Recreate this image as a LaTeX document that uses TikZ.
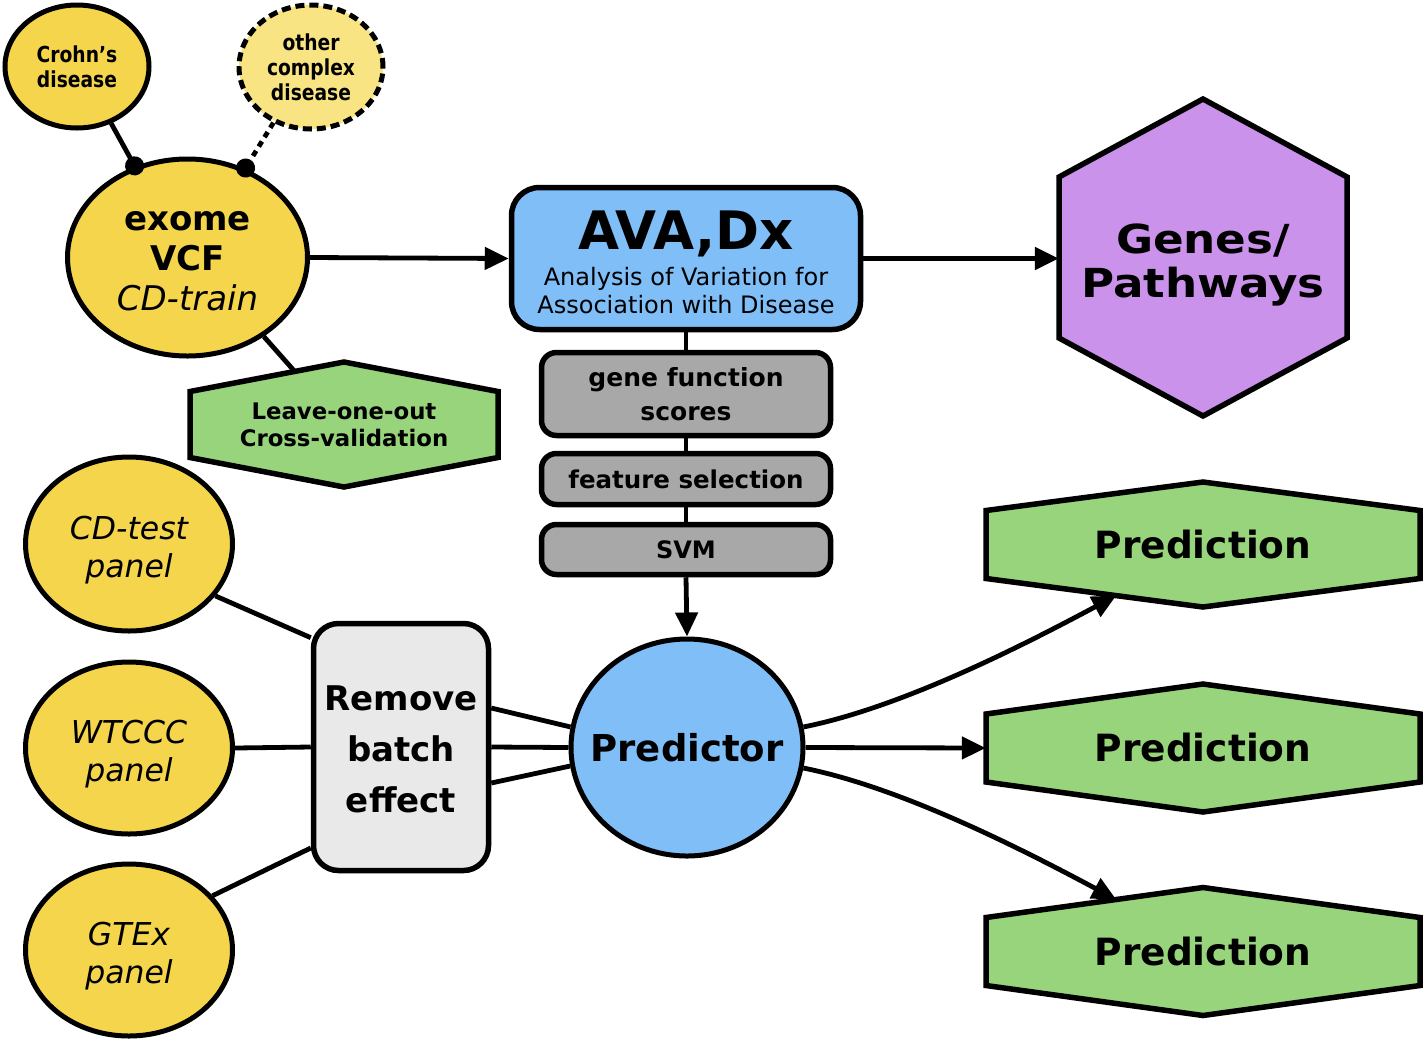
\documentclass[tikz,border=0pt]{standalone}
\usepackage{fontspec}
\setmainfont{DejaVu Sans}
\newfontfamily\narrowfont{DejaVu Sans}[FakeStretch=0.85]
\newfontfamily\widefont{DejaVu Sans}[FakeStretch=1.13]
\usetikzlibrary{arrows.meta,shapes.geometric,calc}

\definecolor{cyell}{HTML}{F5D54B}
\definecolor{clyell}{HTML}{F8E482}
\definecolor{cgreen}{HTML}{98D47C}
\definecolor{cblue}{HTML}{80BEF8}
\definecolor{cpurple}{HTML}{CA92EA}
\definecolor{cgray}{HTML}{A8A8A8}
\definecolor{clgray}{HTML}{E9E9E9}

\newcommand\fs[2]{\fontsize{#1}{#2}\selectfont}
% name, cx, cy, half width, half side height, half vertex height, style
\newcommand\hexpath[7]{%
  \path[#7] ({#2-#4},{#3-#5}) coordinate (#1-nw) -- (#2,{#3-#6}) coordinate (#1-n)
    -- ({#2+#4},{#3-#5}) coordinate (#1-ne) -- ({#2+#4},{#3+#5}) coordinate (#1-se)
    -- (#2,{#3+#6}) coordinate (#1-s) -- ({#2-#4},{#3+#5}) coordinate (#1-sw) -- cycle;}

\tikzset{
  ell/.style={ellipse, draw, line width=5pt, fill=cyell, inner sep=-20pt, align=center},
  rbox/.style={rectangle, rounded corners=15pt, draw, line width=5.5pt, fill=cgray, inner sep=0pt, align=center},
  hexa/.style={draw, line width=5.5pt, line join=miter},
  txt/.style={inner sep=0pt, align=center},
  conn/.style={line width=4.8pt},
  arr/.style={conn, -{Triangle[length=24pt,width=22pt]}},
  dotend/.style={conn, -{Circle[length=19pt]}, shorten >=-9pt},
}

\begin{document}
\begin{tikzpicture}[x=1pt,y=-1pt]
\useasboundingbox (0,0) rectangle (1423,1042);

% hexagons
\hexpath{g}{1203}{257.5}{144}{80.5}{158.5}{hexa, fill=cpurple}
\hexpath{loo}{344}{424.5}{154}{33}{62.5}{hexa, fill=cgreen}
\hexpath{p1}{1203}{544.5}{217}{34}{62.5}{hexa, fill=cgreen}
\hexpath{p2}{1203}{748}{217}{34}{64}{hexa, fill=cgreen}
\hexpath{p3}{1203}{951.5}{217}{34}{64}{hexa, fill=cgreen}

% ellipses
\node[ell, minimum width=144, minimum height=123, font=\narrowfont\fs{22}{25}\bfseries] (crohn) at (77,66.5) {Crohn’s\\disease};
\node[ell, fill=clyell, dash pattern=on 9pt off 5pt, minimum width=144, minimum height=124, font=\narrowfont\fs{22}{25}\bfseries] (other) at (311,67) {other\\complex\\disease};
\node[ell, minimum width=240, minimum height=197, font=\fs{34}{40}] (exome) at (187.5,257.5) {\rule{0pt}{27pt}{\bfseries exome}\\{\bfseries VCF}\\{\itshape CD-train}};
\node[ell, minimum width=207, minimum height=174, font=\fs{31.5}{38}\itshape] (cdtest) at (129,544) {\rule{0pt}{35pt}CD-test\\panel};
\node[ell, minimum width=207, minimum height=172, font=\fs{31.5}{38}\itshape] (wtccc) at (129,748) {\rule{0pt}{35pt}WTCCC\\panel};
\node[ell, minimum width=207, minimum height=172, font=\fs{31.5}{38}\itshape] (gtex) at (129,950) {\rule{0pt}{35pt}GTEx\\panel};
\node[ell, fill=cblue, minimum width=232, minimum height=217, font=\fs{37}{40}\bfseries] (pred) at (687,747.5) {Predictor};

% boxes
\node[rbox, fill=cblue, rounded corners=28pt, minimum width=349, minimum height=142, font=\fs{24}{28}] (ava) at (686,258.5)
  {\rule{0pt}{46pt}{\fs{53}{56}\bfseries AVA,Dx}\\[8pt]Analysis of Variation for\\Association with Disease};
\node[rbox, minimum width=289, minimum height=83, font=\fs{25}{34}\bfseries] (gfs) at (686,394) {gene function\\scores};
\node[rbox, minimum width=289, minimum height=51, font=\fs{24.5}{28}\bfseries] (fsel) at (686,479) {feature selection};
\node[rbox, minimum width=289, minimum height=50, font=\fs{24}{28}\bfseries] (svm) at (686,549.5) {SVM};
\node[rbox, fill=clgray, rounded corners=25pt, minimum width=175, minimum height=247, font=\fs{34}{51}\bfseries] (remove) at (401,747) {\rule{0pt}{30pt}Remove\\batch\\effect};

% hexagon texts
\node[txt, minimum width=288, font=\widefont\fs{40}{44}\bfseries] (genes) at (1203,257.5) {\rule{0pt}{44pt}Genes/\\Pathways};
\node[txt, font=\fs{22.8}{27}\bfseries] (looT) at (344,424.5) {Leave-one-out\\Cross-validation};
\node[txt, minimum width=434, font=\fs{37.5}{40}\bfseries] (pr1) at (1203,544.5) {Prediction};
\node[txt, minimum width=434, font=\fs{37.5}{40}\bfseries] (pr2) at (1203,748) {Prediction};
\node[txt, minimum width=434, font=\fs{37.5}{40}\bfseries] (pr3) at (1203,951.5) {Prediction};

% connectors
\draw[dotend] (crohn.-59) -- (exome.120);
\draw[dotend, dash pattern=on 6pt off 5pt] (other.-124) -- (exome.57);
\draw[conn] (exome.-46) -- ($(loo-nw)!0.68!(loo-n)$);
\draw[arr] (exome.east) -- (ava.west);
\draw[arr] (ava.east) -- (ava.east -| genes.west);
\draw[conn] (ava.south) -- (gfs.north);
\draw[conn] (gfs.south) -- (fsel.north);
\draw[conn] (fsel.south) -- (svm.north);
\draw[arr] (svm.south) -- (pred.north);

\draw[conn] (cdtest.-31) -- ($(remove.north west)!0.067!(remove.south west)$);
\draw[conn] (wtccc.east) -- (remove.west);
\draw[conn] (gtex.33) -- ($(remove.north west)!0.9!(remove.south west)$);

\draw[conn] ($(remove.east)+(0,-39)$) -- (pred.170);
\draw[conn] (remove.east) -- (pred.west);
\draw[conn] ($(remove.east)+(0,36)$) -- (pred.189);

\coordinate (t1) at ($(p1-sw)!0.6!(p1-s)$);
\coordinate (t3) at ($(p3-nw)!0.6!(p3-n)$);
\draw[arr] (pred.10) .. controls ($(pred.10)+(100,-20)$) and ($(t1)+(-90,48)$) .. (t1);
\draw[arr] (pred.east) -- (pr2.west);
\draw[arr] (pred.-10) .. controls ($(pred.-10)+(100,20)$) and ($(t3)+(-90,-48)$) .. (t3);
\end{tikzpicture}
\end{document}
